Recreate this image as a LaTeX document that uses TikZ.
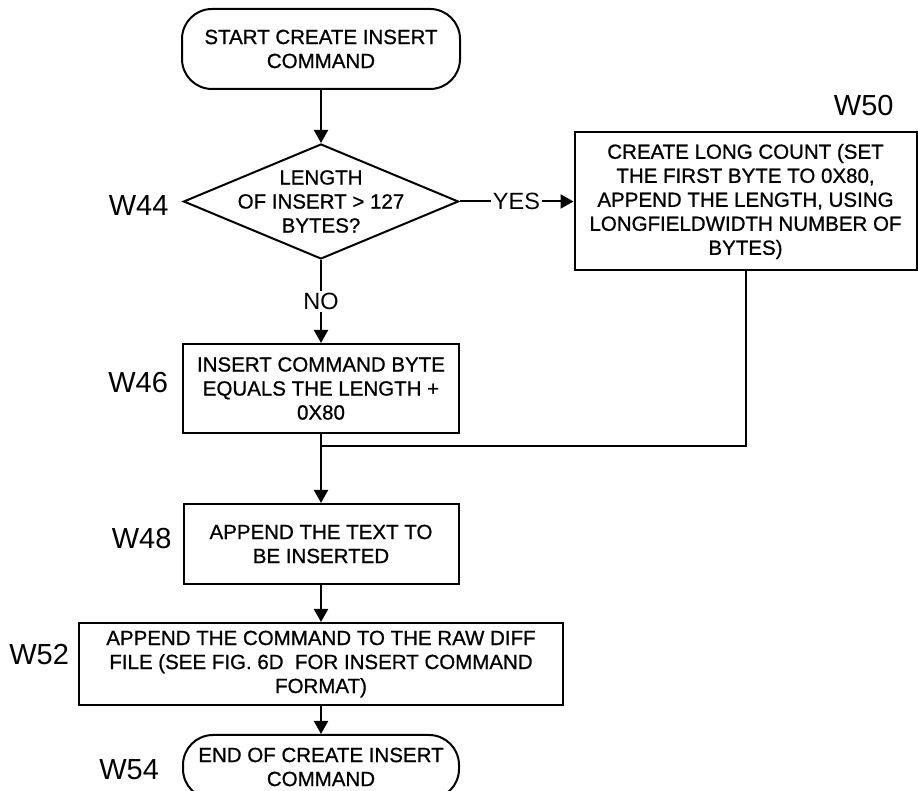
\documentclass[tikz,border=0pt]{standalone}
\usepackage{fontspec}
\setmainfont{Liberation Sans}
\newfontfamily\boxfont[FakeBold=0.8]{Liberation Sans}
\usetikzlibrary{arrows.meta, positioning, shapes.geometric}

\begin{document}
\begin{tikzpicture}[x=1pt, y=1pt, line width=2pt, >={Triangle[length=13pt, width=14pt]},
    txt/.style={font=\boxfont\fontsize{20.5}{24}\selectfont, align=center},
    proc/.style={draw, txt, inner sep=0pt},
    term/.style={draw, txt, rounded corners=30pt, inner sep=0pt},
    tag/.style={font=\fontsize{29}{32}\selectfont, inner sep=0pt},
    ans/.style={font=\fontsize{23.5}{26}\selectfont, fill=white, inner sep=2pt}]
    \useasboundingbox (0,0) rectangle (918,791);

    \node[term, minimum width=278pt, minimum height=80pt] (start) at (321,742) {START CREATE INSERT\\COMMAND};
    \node[draw, diamond, minimum width=275pt, minimum height=115pt, inner sep=0pt, below=53pt of start,
        label={[txt]center:{LENGTH\\OF INSERT > 127\\BYTES?}}] (dec) {};
    \node[proc, minimum width=342pt, minimum height=138pt, right=114pt of dec] (long) {CREATE LONG COUNT (SET\\THE FIRST BYTE TO 0X80,\\APPEND THE LENGTH, USING\\LONGFIELDWIDTH NUMBER OF\\BYTES)};
    \node[proc, minimum width=276pt, minimum height=89pt, below=83pt of dec] (eq) {INSERT COMMAND BYTE\\EQUALS THE LENGTH +\\0X80};
    \node[proc, minimum width=275pt, minimum height=80pt, below=69pt of eq] (app) {APPEND THE TEXT TO\\BE INSERTED};
    \node[proc, minimum width=484pt, minimum height=82pt, below=37pt of app] (raw) {APPEND THE COMMAND TO THE RAW DIFF\\FILE (SEE FIG. 6D\ \ FOR INSERT COMMAND\\FORMAT)};
    \node[term, minimum width=276pt, minimum height=64pt, below=28pt of raw] (end) {END OF CREATE INSERT\\COMMAND};

    \node[tag, left=13pt of dec, yshift=-4pt] (w44) {W44};
    \node[tag, left=13pt of eq, yshift=6pt] (w46) {W46};
    \node[tag, left=10pt of app, yshift=5pt] (w48) {W48};
    \node[tag, left=8pt of raw, yshift=9pt] (w52) {W52};
    \node[tag, left=22pt of end, yshift=-3pt] (w54) {W54};
    \node[tag, above left=15pt and 23pt of long.north east] (w50) {W50};

    \draw[->] (start) -- (dec);
    \draw[->] (dec) -- node[ans] {YES} (long);
    \draw[->] (dec) -- node[ans] {NO} (eq);
    \coordinate[below=12pt of eq] (jn);
    \draw (long) |- (jn);
    \draw[->] (eq) -- (app);
    \draw[->] (app) -- (raw);
    \draw[->] (raw) -- (end);
\end{tikzpicture}
\end{document}
